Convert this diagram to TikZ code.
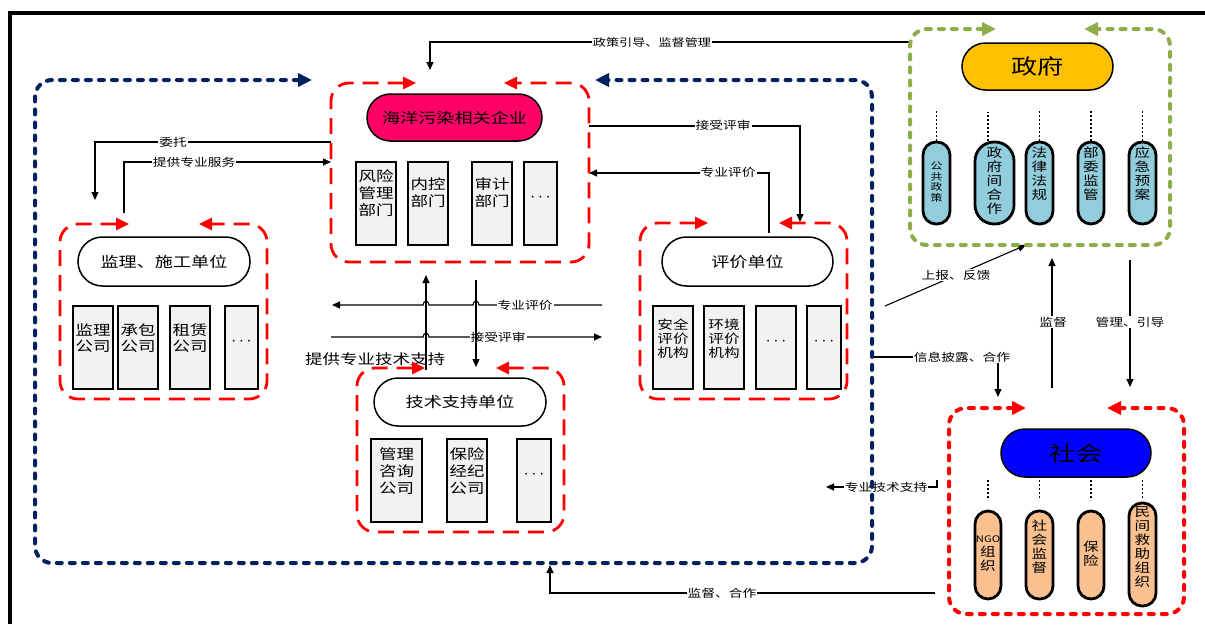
\documentclass[tikz,border=0pt]{standalone}
\usepackage{fontspec}
\setmainfont{Noto Sans CJK SC}[FakeStretch=1.25]
\usetikzlibrary{arrows.meta,shapes.misc}
\definecolor{navy}{HTML}{002060}
\definecolor{grn}{HTML}{8DAD4B}
\definecolor{pinkc}{HTML}{FF0066}
\definecolor{goldc}{HTML}{FFC000}
\definecolor{lblue}{HTML}{92CDDC}
\definecolor{lorange}{HTML}{FAC090}
\definecolor{boxg}{HTML}{F2F2F2}
\tikzset{
  conn/.style={line width=1.1pt, -{Triangle[length=8pt,width=7pt]}},
  lbl/.style={font=\fontsize{11}{13}\selectfont, fill=white, inner sep=1pt},
  grpdash/.style={red, line width=2.8pt, dash pattern=on 16pt off 9pt, rounded corners=18pt,
     {Triangle[length=13pt,width=12pt]}-{Triangle[length=13pt,width=12pt]}},
  grpdot/.style={line width=4pt, line cap=round, dash pattern=on 5pt off 8pt, rounded corners=17pt,
     {Triangle[length=14pt,width=13pt]}-{Triangle[length=14pt,width=13pt]}},
  stad/.style={rounded rectangle, draw=black, line width=1.5pt, inner sep=0pt, font=\fontsize{14.5}{16}\selectfont},
  dept/.style={draw=black, line width=2.8pt, fill=boxg, inner sep=0pt},
  boxtxt/.style={align=center, font=\fontsize{14}{17}\selectfont, inner sep=0pt},
  dotstxt/.style={inner sep=0pt, font=\fontsize{16}{16}\selectfont},
  evtxt/.style={align=center, font=\fontsize{12.5}{14}\selectfont, inner sep=0pt},
  pill/.style={draw=black, line width=2.8pt, rounded corners=13pt, inner sep=0pt},
  ptxt/.style={align=center, font=\fontsize{12.5}{14}\selectfont, inner sep=0pt},
  hidden/.style={inner sep=0pt, outer sep=0pt},
  dotline/.style={line width=1.2pt, dash pattern=on 2pt off 2pt},
}
\newcommand{\mydots}{${\cdot}\,{\cdot}\,{\cdot}$}
\begin{document}
\begin{tikzpicture}[x=1pt,y=-1pt]
\useasboundingbox (0,0) rectangle (1205,624);
% outer frame
\draw[line width=4pt] (10,624) -- (10,13) -- (1205,13);

% group regions (invisible, for anchoring)
\node[hidden, minimum width=258pt, minimum height=179pt] (entG) at (460,172.5) {};
\node[hidden, minimum width=207pt, minimum height=175pt] (supG) at (163.5,311.5) {};
\node[hidden, minimum width=207pt, minimum height=176pt] (evalG) at (743.5,311) {};
\node[hidden, minimum width=207pt, minimum height=164pt] (techG) at (460.5,450) {};
\node[hidden, minimum width=260pt, minimum height=216pt] (govG) at (1040,137) {};
\node[hidden, minimum width=235pt, minimum height=206pt] (socG) at (1066.5,511) {};
\node[hidden, minimum width=837pt, minimum height=483pt] (blueF) at (453.5,321.5) {};

% ---------- connectors ----------
\coordinate (polA) at (430,42); \coordinate (polB) at (430,70);
\draw[conn] (govG.west |- polA) -- (polA) -- (polB);
\node[lbl, font=\fontsize{10.5}{12}\selectfont] (lpol) at (652,42) {政策引导、监督管理};

\coordinate (wtA) at (95,142); \coordinate (wtB) at (95,200);
\draw[conn] (entG.west |- wtA) -- (wtA) -- (wtB);
\node[lbl] (lwt) at (173,142) {委托};

\coordinate (fwA) at (124,213); \coordinate (fwB) at (124,162);
\draw[conn] (fwA) -- (fwB) -- (entG.west |- fwB);
\node[lbl] (lfw) at (194,162) {提供专业服务};

\coordinate (jsA) at (800,126); \coordinate (jsB) at (800,222);
\draw[conn] (entG.east |- jsA) -- (jsA) -- (jsB);
\node[lbl] (ljs) at (723,125) {接受评审};

\coordinate (pjA) at (769,233); \coordinate (pjB) at (769,173);
\draw[conn] (pjA) -- (pjB) -- (entG.east |- pjB);
\node[lbl] (lpj) at (728,172) {专业评价};

% middle crossing lines
\coordinate (hR1) at (602,305); \coordinate (hL1) at (332,305);
\draw[conn] (hR1) -- (479,305) .. controls (479,300) and (473,300) .. (473,305)
   -- (429,305) .. controls (429,300) and (423,300) .. (423,305) -- (hL1);
\node[lbl] (lpj2) at (525,305) {专业评价};
\coordinate (hL2) at (331,337); \coordinate (hR2) at (602,337);
\draw[conn] (hL2) -- (423,337) .. controls (423,332) and (429,332) .. (429,337)
   -- (473,337) .. controls (473,332) and (479,332) .. (479,337) -- (hR2);
\node[lbl] (ljs2) at (498,337) {接受评审};
\coordinate (vU1) at (426,370); \coordinate (vU2) at (426,275);
\draw[conn] (vU1) -- (vU2);
\coordinate (vD1) at (476,280); \coordinate (vD2) at (476,367);
\draw[conn] (vD1) -- (vD2);
\node[inner sep=0pt, font=\fontsize{14}{16}\selectfont] (ltech) at (375,359) {提供专业技术支持};

% right side
\coordinate (sbA) at (885,306); \coordinate (sbB) at (1026,245);
\draw[conn] (sbA) -- (sbB);
\node[lbl] (lsb) at (956,275) {上报、反馈};
\coordinate (jdA) at (1052,388); \coordinate (jdB) at (1052,258);
\draw[conn] (jdA) -- (jdB);
\node[lbl] (ljd) at (1053,322) {监督};
\coordinate (glA) at (1130,260); \coordinate (glB) at (1130,387);
\draw[conn] (glA) -- (glB);
\node[lbl] (lgl) at (1130,322) {管理、引导};
\coordinate (xxA) at (998,357); \coordinate (xxB) at (998,397);
\draw[conn] (blueF.east |- xxA) -- (xxA) -- (xxB);
\node[lbl] (lxx) at (962,357) {信息披露、合作};
\coordinate (zjA) at (937,480); \coordinate (zjB) at (937,487); \coordinate (zjC) at (826,487);
\draw[conn] (zjA) -- (zjB) -- (zjC);
\node[lbl] (lzj) at (886,487) {专业技术支持};
\coordinate (jhA) at (935,593); \coordinate (jhB) at (550,593); \coordinate (jhC) at (550,565);
\draw[conn] (jhA) -- (jhB) -- (jhC);
\node[lbl] (ljh) at (722,593) {监督、合作};

% ---------- group frames ----------
\draw[grpdot, navy] (312,80) -- (35,80) -- (35,563) -- (872,563) -- (872,80) -- (595,80);
\draw[grpdash] (416,83) -- (331,83) -- (331,262) -- (589,262) -- (589,83) -- (504,83);
\draw[grpdash] (129,224) -- (60,224) -- (60,399) -- (267,399) -- (267,224) -- (199,224);
\draw[grpdash] (708,223) -- (640,223) -- (640,399) -- (847,399) -- (847,223) -- (779,223);
\draw[grpdash] (425,368) -- (357,368) -- (357,532) -- (564,532) -- (564,368) -- (496,368);
\draw[grpdot, grn] (996,29) -- (910,29) -- (910,245) -- (1170,245) -- (1170,29) -- (1084,29);
\draw[grpdot, red] (1026,408) -- (949,408) -- (949,614) -- (1184,614) -- (1184,408) -- (1107,408);

% ---------- stadiums ----------
\node[stad, fill=pinkc, minimum width=175pt, minimum height=47pt] (entS) at (454.5,117.5) {海洋污染相关企业};
\node[stad, fill=white, minimum width=172pt, minimum height=49pt] (supS) at (164,261.5) {监理、施工单位};
\node[stad, fill=white, minimum width=171pt, minimum height=49pt] (evalS) at (747.5,261.5) {评价单位};
\node[stad, fill=white, minimum width=172pt, minimum height=48pt] (techS) at (460,402) {技术支持单位};
\node[stad, fill=goldc, minimum width=151pt, minimum height=47pt, font=\fontsize{21}{24}\selectfont] (govS) at (1037.5,66.5) {政府};
\node[stad, fill=blue, minimum width=150pt, minimum height=48pt, font=\fontsize{21}{24}\selectfont] (socS) at (1076,453) {社会};

% ---------- enterprise departments ----------
\node[dept, minimum width=40pt, minimum height=83pt] (e1) at (376,203.5) {};
\node[dept, minimum width=40pt, minimum height=83pt] (e2) at (428,203.5) {};
\node[dept, minimum width=40pt, minimum height=83pt] (e3) at (492,203.5) {};
\node[dept, minimum width=33pt, minimum height=83pt] (e4) at (540.5,203.5) {};
\node[boxtxt] (e1t) at (376,193) {风险\\管理\\部门};
\node[boxtxt] (e2t) at (428,193) {内控\\部门};
\node[boxtxt] (e3t) at (492,193) {审计\\部门};
\node[dotstxt] (e4t) at (540.5,198) {\mydots};

% ---------- supervision / construction ----------
\node[dept, minimum width=40pt, minimum height=83pt] (s1) at (93,347.5) {};
\node[dept, minimum width=40pt, minimum height=83pt] (s2) at (138,347.5) {};
\node[dept, minimum width=40pt, minimum height=83pt] (s3) at (190,347.5) {};
\node[dept, minimum width=33pt, minimum height=83pt] (s4) at (241.5,347.5) {};
\node[boxtxt, font=\fontsize{14}{16}\selectfont] (s1t) at (93,338) {监理\\公司};
\node[boxtxt, font=\fontsize{14}{16}\selectfont] (s2t) at (138,338) {承包\\公司};
\node[boxtxt, font=\fontsize{14}{16}\selectfont] (s3t) at (190,338) {租赁\\公司};
\node[dotstxt] (s4t) at (241.5,342) {\mydots};

% ---------- evaluation ----------
\node[dept, minimum width=40pt, minimum height=83pt] (v1) at (673,347.5) {};
\node[dept, minimum width=40pt, minimum height=83pt] (v2) at (724,347.5) {};
\node[dept, minimum width=40pt, minimum height=83pt] (v3) at (776,347.5) {};
\node[dept, minimum width=34pt, minimum height=83pt] (v4) at (824,347.5) {};
\node[evtxt] (v1t) at (673,339) {安全\\评价\\机构};
\node[evtxt] (v2t) at (724,339) {环境\\评价\\机构};
\node[dotstxt] (v3t) at (776,342) {\mydots};
\node[dotstxt] (v4t) at (824,342) {\mydots};

% ---------- technical support ----------
\node[dept, minimum width=51pt, minimum height=83pt] (t1) at (396.5,480.5) {};
\node[dept, minimum width=40pt, minimum height=83pt] (t2) at (467,480.5) {};
\node[dept, minimum width=34pt, minimum height=83pt] (t3) at (534,480.5) {};
\node[boxtxt] (t1t) at (396.5,471) {管理\\咨询\\公司};
\node[boxtxt] (t2t) at (467,471) {保险\\经纪\\公司};
\node[dotstxt] (t3t) at (534,475) {\mydots};

% ---------- government pills ----------
\node[pill, fill=lblue, minimum width=27pt, minimum height=82pt] (g1) at (936.5,183) {};
\node[pill, fill=lblue, minimum width=39pt, minimum height=82pt, rounded corners=19pt] (g2) at (994.5,183) {};
\node[pill, fill=lblue, minimum width=27pt, minimum height=82pt] (g3) at (1039.5,183) {};
\node[pill, fill=lblue, minimum width=26pt, minimum height=82pt] (g4) at (1091,183) {};
\node[pill, fill=lblue, minimum width=27pt, minimum height=82pt] (g5) at (1142.5,183) {};
\foreach \g in {g1,g3,g4,g5} \draw[dotline] (\g.north) -- ++(0,-30);
\draw[dotline] (g2.north -| 988,0) -- (988,112);
\node[ptxt, font=\fontsize{9.5}{10.8}\selectfont] (g1t) at (936.5,182) {公\\共\\政\\策};
\node[ptxt] (g2t) at (994.5,181) {政\\府\\间\\合\\作};
\node[ptxt] (g3t) at (1039.5,174) {法\\律\\法\\规};
\node[ptxt] (g4t) at (1091,174) {部\\委\\监\\管};
\node[ptxt] (g5t) at (1142.5,174) {应\\急\\预\\案};

% ---------- society pills ----------
\node[pill, fill=lorange, minimum width=26pt, minimum height=88pt] (o1) at (988,555) {};
\node[pill, fill=lorange, minimum width=27pt, minimum height=88pt] (o2) at (1039.5,555) {};
\node[pill, fill=lorange, minimum width=26pt, minimum height=88pt] (o3) at (1091,555) {};
\node[pill, fill=lorange, minimum width=27pt, minimum height=103pt] (o4) at (1142.5,554.5) {};
\foreach \o in {o1,o2,o3,o4} \draw[dotline] (\o.north |- 0,480) -- (\o.north |- 0,500);
\node[ptxt] (o1t) at (988,554) {{\fontsize{9}{10}\selectfont NGO}\\组\\织};
\node[ptxt] (o2t) at (1039.5,547) {社\\会\\监\\督};
\node[ptxt] (o3t) at (1091,554) {保\\险};
\node[ptxt] (o4t) at (1142.5,547) {民\\间\\救\\助\\组\\织};
\end{tikzpicture}
\end{document}
